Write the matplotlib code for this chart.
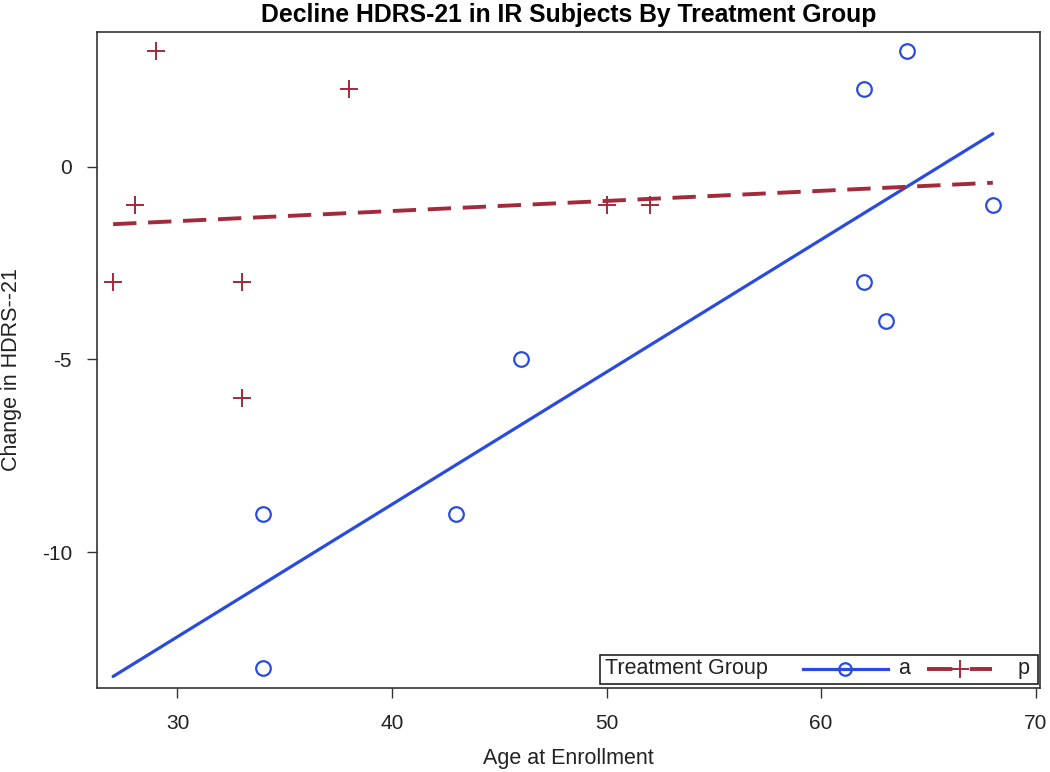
import numpy as np
import matplotlib
matplotlib.use('Agg')
from matplotlib import pyplot as plt
from matplotlib.lines import Line2D
from matplotlib.patches import Rectangle

plt.rcParams['font.family'] = ['Liberation Sans', 'DejaVu Sans']
plt.rcParams['axes.unicode_minus'] = False

# group a
age_a = [34, 34, 43, 46, 62, 64, 62, 63, 68]
chg_a = [-9, -13, -9, -5, 2, 3, -3, -4, -1]

# group p
age_p = [27, 28, 29, 33, 33, 38, 50, 52]
chg_p = [-3, -1, 3, -3, -6, 2, -1, -1]

x_ticks = [30, 40, 50, 60, 70]
y_ticks = [0, -5, -10]

blue = '#2A4CDE'
red = '#A32A3A'

fig = plt.figure(figsize=(10.5, 7.72), dpi=100)
ax = fig.add_axes([0.0924, 0.1088, 0.8981, 0.8497])

# scatter points
ax.plot(age_a, chg_a, 'o', ms=10.5, mfc='none', mec=blue, mew=1.6, zorder=3)
ax.plot(age_p, chg_p, '+', ms=13, color=red, mew=1.4, zorder=3)

# regression lines over full age range
xr = np.array([min(age_a + age_p), max(age_a + age_p)])
ka, ba = np.polyfit(age_a, chg_a, 1)
kp, bp = np.polyfit(age_p, chg_p, 1)
ax.plot(xr, ka * xr + ba, '-', color=blue, lw=2.3, solid_capstyle='round')
ax.plot(xr, kp * xr + bp, '--', color=red, lw=2.8, dashes=(6, 3))

ax.set_xlim(26.25, 70.2)
ax.set_ylim(-13.52, 3.49)
ax.set_xticks(x_ticks)
ax.set_yticks(y_ticks)
ax.tick_params(labelsize=15, length=7, width=1, direction='out', color='#333333',
               labelcolor='#222222', pad=12)
ax.tick_params(axis='y', pad=11)
for s in ax.spines.values():
    s.set_color('#333333')
    s.set_linewidth(1.2)

ax.set_xlabel('Age at Enrollment', fontsize=15.5, color='#222222', va='top')
ax.xaxis.set_label_coords(0.5, -0.0915)
fig.text(12 / 1050, 1 - 370 / 772, 'Change in HDRS--21', rotation=90,
         fontsize=15.5, ha='center', va='center', color='#222222')
ax.set_title('Decline HDRS-21 in IR Subjects By Treatment Group',
             fontsize=17.8, fontweight='bold', pad=7)

# legend box, drawn by hand to get the one-row SAS layout
ly = 0.029
ax.add_patch(Rectangle((0.5334, 0.0061), 0.4645, 0.0442, transform=ax.transAxes,
                       fill=False, ec='#222222', lw=1.2, zorder=5))
ax.text(0.539, ly, 'Treatment Group', transform=ax.transAxes,
        fontsize=15.5, va='center', ha='left', color='#222222')
ax.add_line(Line2D([0.7487, 0.8388], [ly, ly], transform=ax.transAxes,
                   color=blue, lw=2.3, clip_on=False))
ax.add_line(Line2D([0.7932], [ly], transform=ax.transAxes, marker='o', ms=9,
                   mfc='none', mec=blue, mew=1.6, clip_on=False))
ax.text(0.8494, ly, 'a', transform=ax.transAxes, fontsize=15.5,
        va='center', ha='left', color='#222222')
ax.add_line(Line2D([0.8802, 0.9491], [ly, ly], transform=ax.transAxes,
                   color=red, lw=2.8, dashes=(6.5, 4.5), clip_on=False))
ax.add_line(Line2D([0.9147], [ly], transform=ax.transAxes, marker='+', ms=13,
                   color=red, mew=1.4, clip_on=False))
ax.text(0.9767, ly, 'p', transform=ax.transAxes, fontsize=15.5,
        va='center', ha='left', color='#222222')

plt.savefig('out.png', dpi=100)
